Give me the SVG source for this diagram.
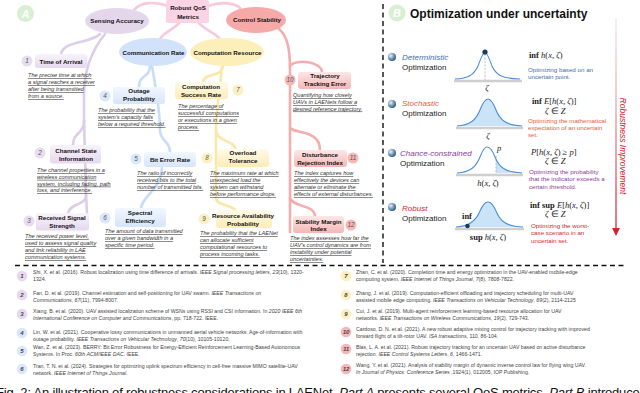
<svg xmlns="http://www.w3.org/2000/svg" width="640" height="393" viewBox="0 0 640 393">
<defs>
<style>
text{font-family:"Liberation Sans",Arial,sans-serif;}
.ti{font-weight:bold;font-size:6.2px;fill:#111;text-anchor:middle;}
.el{font-weight:bold;font-size:6.2px;fill:#111;text-anchor:middle;}
.de{font-style:italic;font-size:5.6px;fill:#333;text-decoration:underline;}
.nu{font-style:italic;font-size:6.3px;fill:#555;text-anchor:middle;}
.rf{font-size:5.2px;fill:#444;}
.i{font-style:italic;}
.rn{font-style:italic;font-weight:bold;font-size:6px;fill:#444;text-anchor:middle;}
.cl{fill:none;stroke-width:2.6;stroke-linecap:round;}
.lav{stroke:#ddcde8;} .blu{stroke:#c9dcf8;} .yel{stroke:#fbe7a6;} .red{stroke:#f6acac;} .pnk{stroke:#f8c8dc;}
.bo{font-size:8px;fill:#222;}
.bi{font-size:8px;font-style:italic;}
.fm{font-family:"Liberation Serif","Times New Roman",serif;font-size:8.5px;fill:#222;}
.bd{font-size:6.2px;}
.crv{fill:none;stroke:#4a8fdc;stroke-width:1.1;}
.fil{fill:#cbe3f6;stroke:none;}
.base{stroke:#cfcfcf;stroke-width:2.4;}
.dsh{stroke:#b0b0b0;stroke-width:0.8;stroke-dasharray:2 1.5;}
.sep{stroke:#111;stroke-width:1.4;stroke-dasharray:5 3.5;fill:none;}
</style>
<linearGradient id="gL" x1="0" y1="0" x2="0" y2="1"><stop offset="0" stop-color="#f8f3fb"/><stop offset="1" stop-color="#e6d8ef"/></linearGradient>
<linearGradient id="gB" x1="0" y1="0" x2="0" y2="1"><stop offset="0" stop-color="#f2f7fe"/><stop offset="1" stop-color="#d6e5fb"/></linearGradient>
<linearGradient id="gY" x1="0" y1="0" x2="0" y2="1"><stop offset="0" stop-color="#fffaea"/><stop offset="1" stop-color="#fcecb5"/></linearGradient>
<linearGradient id="gR" x1="0" y1="0" x2="0" y2="1"><stop offset="0" stop-color="#fde6e6"/><stop offset="1" stop-color="#f6b6b6"/></linearGradient>
<linearGradient id="gArr" gradientUnits="userSpaceOnUse" x1="616" y1="18" x2="616" y2="232"><stop offset="0" stop-color="#f1e6e8"/><stop offset="0.35" stop-color="#eab0b4"/><stop offset="1" stop-color="#d3222c"/></linearGradient>
<radialGradient id="sph" cx="0.35" cy="0.35" r="0.7"><stop offset="0" stop-color="#eef3f8"/><stop offset="0.5" stop-color="#7d9dbd"/><stop offset="1" stop-color="#2b5884"/></radialGradient>
<clipPath id="cpP"><rect x="496" y="140" width="30" height="40"/></clipPath>
<marker id="ah" viewBox="0 0 10 10" refX="5" refY="5" markerWidth="6" markerHeight="6" orient="auto"><path d="M0,0 L10,5 L0,10 z" fill="#d3222c"/></marker>
</defs>
<rect width="640" height="393" fill="#fff"/>

<!-- separators -->
<line class="sep" x1="383" y1="4" x2="383" y2="263"/>
<line class="sep" x1="15" y1="265.5" x2="626" y2="265.5"/>

<!-- Panel labels -->
<g id="labelA"><circle cx="25.5" cy="13.5" r="8.5" fill="#d8efd3"/><text x="25.5" y="17.5" text-anchor="middle" font-size="11" font-weight="bold" font-style="italic" fill="#fff">A</text></g>
<g id="labelB"><circle cx="397" cy="13" r="8.5" fill="#d8efd3"/><text x="397" y="17" text-anchor="middle" font-size="11" font-weight="bold" font-style="italic" fill="#fff">B</text></g>

<!-- connectors -->
<g id="connectors">
<path class="cl pnk" d="M168,6 C155,1 140,2 134,10"/>
<path class="cl pnk" d="M208,6 C222,1 236,3 241,9"/>
<path class="cl pnk" d="M180,22 C174,30 163,32 160,39"/>
<path class="cl pnk" d="M198,22 C204,30 215,32 220,39"/>
<path class="cl lav" d="M100,34 C90,44 64,40 61,54"/>
<path class="cl lav" d="M105,34 C92,50 84,70 84,95 L84,122 C84,134 73,132 73,145"/>
<path class="cl lav" d="M84,120 L86,195 C87,205 70,203 68,213"/>
<path class="cl lav" d="M86,195 L87,213"/>
<path class="cl blu" d="M150,66 C150,78 139,74 139,87"/>
<path class="cl blu" d="M152,66 C156,90 160,110 160,130 C160,142 170,140 170,152"/>
<path class="cl blu" d="M162,166 C162,190 141,196 141,209"/>
<path class="cl yel" d="M223,66 C222,78 203,72 203,83"/>
<path class="cl yel" d="M222,66 C220,90 216,110 216,130 C216,142 235,140 236,150"/>
<path class="cl yel" d="M216,130 L216,198 C216,206 232,204 236,211"/>
<path class="cl red" d="M278,28 C288,36 290,50 290,70 L290,232"/>
<path class="cl red" d="M290,66 C296,58 322,62 322,72"/>
<path class="cl red" d="M290,128 C296,134 320,130 320,150"/>
<path class="cl red" d="M290,198 C294,208 314,204 315,216"/>
</g>

<!-- root and categories -->
<g id="root"><rect x="166" y="0" width="43" height="23" rx="2" fill="#fad4e5"/><text class="el" x="188" y="9.5" font-size="6.8">Robust QoS</text><text class="el" x="188" y="18.5" font-size="6.8">Metrics</text></g>
<g id="sensing"><ellipse cx="117" cy="21" rx="32" ry="13" fill="#e4d7ec"/><text class="el" x="117" y="23">Sensing Accuracy</text></g>
<g id="control"><ellipse cx="256" cy="20" rx="30" ry="13" fill="#f5a9a8"/><text class="el" x="257" y="22">Control Stability</text></g>
<g id="commrate"><ellipse cx="153" cy="52" rx="34" ry="14" fill="#d2e2fb"/><text class="el" x="153.5" y="54.5">Communication Rate</text></g>
<g id="comprsc"><ellipse cx="227" cy="52" rx="37" ry="14" fill="#fcefb9"/><text class="el" x="227.5" y="54.5">Computation Resource</text></g>

<!-- lavender nodes -->
<g id="n1"><circle cx="27" cy="61" r="5.5" fill="#e8dcef"/><text class="nu" x="27" y="63.3">1</text>
<rect x="35" y="54" width="52" height="14" rx="3" fill="url(#gL)"/><text class="ti" x="61" y="63.5">Time of Arrival</text>
<text class="de" x="28" y="77">The precise time at which</text><text class="de" x="28" y="84">a signal reaches a receiver</text><text class="de" x="28" y="91">after being transmitted</text><text class="de" x="28" y="98">from a source.</text></g>
<g id="n2"><circle cx="40" cy="153" r="5.5" fill="#e8dcef"/><text class="nu" x="40" y="155.3">2</text>
<rect x="50" y="145" width="51" height="18.5" rx="3" fill="url(#gL)"/><text class="ti" x="76" y="153">Channel State</text><text class="ti" x="76" y="161">Information</text>
<text class="de" x="37" y="172">The channel properties in a</text><text class="de" x="37" y="178.8">wireless communication</text><text class="de" x="37" y="185.6">system, including fading, path</text><text class="de" x="37" y="192.4">loss, and interference.</text></g>
<g id="n3"><circle cx="29" cy="221" r="5.5" fill="#e8dcef"/><text class="nu" x="29" y="223.3">3</text>
<rect x="36" y="213" width="53" height="17.5" rx="3" fill="url(#gL)"/><text class="ti" x="62" y="220">Received Signal</text><text class="ti" x="62" y="228">Strength</text>
<text class="de" x="25" y="238">The received power level,</text><text class="de" x="25" y="245">used to assess signal quality</text><text class="de" x="25" y="252">and link reliability in LAE</text><text class="de" x="25" y="259">communication systems.</text></g>

<!-- blue nodes -->
<g id="n4"><circle cx="105" cy="96" r="5.5" fill="#dbe7fb"/><text class="nu" x="105" y="98.3">4</text>
<rect x="113" y="87" width="52" height="17" rx="3" fill="url(#gB)"/><text class="ti" x="139" y="93">Outage</text><text class="ti" x="139" y="101">Probability</text>
<text class="de" x="98" y="112">The probability that the</text><text class="de" x="98" y="119">system's capacity falls</text><text class="de" x="98" y="126">below a required threshold.</text></g>
<g id="n5"><circle cx="136" cy="159" r="5.5" fill="#dbe7fb"/><text class="nu" x="136" y="161.3">5</text>
<rect x="144" y="152" width="52" height="15" rx="3" fill="url(#gB)"/><text class="ti" x="170" y="161.5">Bit Error Rate</text>
<text class="de" x="137" y="175">The ratio of incorrectly</text><text class="de" x="137" y="182">received bits to the total</text><text class="de" x="137" y="189">number of transmitted bits.</text></g>
<g id="n6"><circle cx="105" cy="218" r="5.5" fill="#dbe7fb"/><text class="nu" x="105" y="220.3">6</text>
<rect x="115" y="208" width="51" height="19" rx="3" fill="url(#gB)"/><text class="ti" x="140" y="215">Spectral</text><text class="ti" x="140" y="223">Efficiency</text>
<text class="de" x="105" y="233">The amount of data transmitted</text><text class="de" x="105" y="240">over a given bandwidth in a</text><text class="de" x="105" y="247">specific time period.</text></g>

<!-- yellow nodes -->
<g id="n7"><circle cx="238" cy="90" r="5.5" fill="#fcf0c3"/><text class="nu" x="238" y="92.3">7</text>
<rect x="175" y="82" width="53" height="17" rx="3" fill="url(#gY)"/><text class="ti" x="201" y="89">Computation</text><text class="ti" x="201" y="96.5">Success Rate</text>
<text class="de" x="178" y="108">The percentage of</text><text class="de" x="178" y="115">successful computations</text><text class="de" x="178" y="122">or executions in a given</text><text class="de" x="178" y="129">process.</text></g>
<g id="n8"><circle cx="207" cy="158" r="5.5" fill="#fcf0c3"/><text class="nu" x="207" y="160.3">8</text>
<rect x="217" y="149" width="52" height="18" rx="3" fill="url(#gY)"/><text class="ti" x="243" y="155">Overload</text><text class="ti" x="243" y="163">Tolerance</text>
<text class="de" x="210" y="175">The maximum rate at which</text><text class="de" x="210" y="182">unexpected load the</text><text class="de" x="210" y="189">system can withstand</text><text class="de" x="210" y="196">before performance drops.</text></g>
<g id="n9"><circle cx="204" cy="219" r="5.5" fill="#fcf0c3"/><text class="nu" x="204" y="221.3">9</text>
<rect x="216" y="210" width="56" height="18" rx="3" fill="url(#gY)"/><text class="ti" x="243" y="218">Resource Availability</text><text class="ti" x="243" y="225.5">Probability</text>
<text class="de" x="200" y="235">The probability that the LAENet</text><text class="de" x="200" y="242">can allocate sufficient</text><text class="de" x="200" y="249">computational resources to</text><text class="de" x="200" y="256">process incoming tasks.</text></g>

<!-- red nodes -->
<g id="n10"><circle cx="290" cy="80" r="5.5" fill="#f7b7b6"/><text class="nu" x="290" y="82.3">10</text>
<rect x="298" y="72" width="53" height="17" rx="3" fill="url(#gR)"/><text class="ti" x="325" y="78">Trajectory</text><text class="ti" x="325" y="86">Tracking Error</text>
<text class="de" x="293" y="97">Quantifying how closely</text><text class="de" x="293" y="104">UAVs in LAENets follow a</text><text class="de" x="293" y="110.5">desired reference trajectory.</text></g>
<g id="n11"><circle cx="353" cy="158" r="5.5" fill="#f7b7b6"/><text class="nu" x="353" y="160.3">11</text>
<rect x="294" y="150" width="53" height="17" rx="3" fill="url(#gR)"/><text class="ti" x="320" y="157">Disturbance</text><text class="ti" x="320" y="165">Rejection Index</text>
<text class="de" x="294" y="175">The index captures how</text><text class="de" x="294" y="182">effectively the devices can</text><text class="de" x="294" y="189">alternate or eliminate the</text><text class="de" x="294" y="196">effects of external disturbances.</text></g>
<g id="n12"><circle cx="351" cy="225" r="5.5" fill="#f7b7b6"/><text class="nu" x="351" y="227.3">12</text>
<rect x="293" y="216" width="51" height="17" rx="3" fill="url(#gR)"/><text class="ti" x="318.5" y="224">Stability Margin</text><text class="ti" x="318.5" y="231">Index</text>
<text class="de" x="290" y="240">The index assesses how far the</text><text class="de" x="290" y="247">UAV's control dynamics are from</text><text class="de" x="290" y="254">instability under potential</text><text class="de" x="290" y="261">uncertainties.</text></g>

<!-- Panel B -->
<text x="410" y="18" font-size="12" font-weight="bold" fill="#111">Optimization under uncertainty</text>

<g id="det">
<circle cx="392" cy="57" r="4" fill="url(#sph)"/>
<text class="bi" x="402" y="60" fill="#3f6fae">Deterministic</text><text class="bo" x="402" y="70">Optimization</text>
<line class="base" x1="454" y1="81" x2="522" y2="81"/>
<line class="dsh" x1="485" y1="54" x2="485" y2="80"/>
<path class="crv" d="M455,79 C468,78.5 474,75 478,66 C481,58 483,52 485,52 C487,52 489,58 492,66 C496,75 502,78.5 520,79"/>
<circle cx="485" cy="52" r="2.6" fill="#1c3a60"/>
<text class="fm" x="487" y="91" text-anchor="middle" font-style="italic">ζ</text>
<text class="fm" x="529" y="58"><tspan font-weight="bold">inf</tspan> <tspan font-style="italic">h</tspan>(<tspan font-style="italic">x</tspan>, <tspan font-style="italic">ζ</tspan>)</text>
<text class="bd" x="528" y="72" fill="#3f6fae">Optimizing based on an</text><text class="bd" x="528" y="79" fill="#3f6fae">uncertain point.</text>
</g>

<g id="sto">
<circle cx="392" cy="104" r="4" fill="url(#sph)"/>
<text class="bi" x="402" y="106" fill="#e2603c">Stochastic</text><text class="bo" x="402" y="116">Optimization</text>
<line class="base" x1="456" y1="128" x2="523" y2="128"/>
<path class="fil" d="M457,126 C470,125.5 476,120 480,110 C483,102 486,99 488,99 C490,99 493,102 496,110 C500,120 506,125.5 522,126 Z"/>
<path class="crv" d="M457,126 C470,125.5 476,120 480,110 C483,102 486,99 488,99 C490,99 493,102 496,110 C500,120 506,125.5 522,126"/>
<text class="fm" x="488" y="139" text-anchor="middle" font-style="italic">ζ</text>
<text class="fm" x="532" y="104"><tspan font-weight="bold">inf</tspan> <tspan font-style="italic">E</tspan>[<tspan font-style="italic">h</tspan>(<tspan font-style="italic">x</tspan>, <tspan font-style="italic">ζ</tspan>)]</text>
<text class="fm" x="545" y="114"><tspan font-style="italic">ζ</tspan> ∈ <tspan font-style="italic">Z</tspan></text>
<text class="bd" x="528" y="123" fill="#e2603c">Optimizing the mathematical</text><text class="bd" x="528" y="130" fill="#e2603c">expectation of an uncertain</text><text class="bd" x="528" y="137" fill="#e2603c">set.</text>
</g>

<g id="cha">
<circle cx="392" cy="153" r="4" fill="url(#sph)"/>
<text class="bi" x="400" y="156" fill="#8d3a9c">Chance-constrained</text><text class="bo" x="400" y="166">Optimization</text>
<line class="base" x1="456" y1="175" x2="523" y2="175"/>
<path class="fil" clip-path="url(#cpP)" d="M457,173 C470,172.5 476,167 480,157 C483,149 485,147 487,147 C489,147 492,149 495,157 C499,167 505,172.5 522,173 Z"/>
<line class="dsh" x1="496" y1="156" x2="496" y2="174"/>
<path class="crv" d="M457,173 C470,172.5 476,167 480,157 C483,149 485,147 487,147 C489,147 492,149 495,157 C499,167 505,172.5 522,173"/>
<text class="fm" x="497" y="151" font-style="italic" font-size="7.5">p</text>
<text class="fm" x="488" y="186" text-anchor="middle" font-size="7.5"><tspan font-style="italic">h</tspan>(<tspan font-style="italic">x</tspan>, <tspan font-style="italic">ζ</tspan>)</text>
<text class="fm" x="531" y="155"><tspan font-style="italic">P</tspan>[<tspan font-style="italic">h</tspan>(<tspan font-style="italic">x</tspan>, <tspan font-style="italic">ζ</tspan>) ≥ <tspan font-style="italic">p</tspan>]</text>
<text class="fm" x="545" y="164"><tspan font-style="italic">ζ</tspan> ∈ <tspan font-style="italic">Z</tspan></text>
<text class="bd" x="529" y="174" fill="#8d3a9c">Optimizing the probability</text><text class="bd" x="529" y="181" fill="#8d3a9c">that the indicator exceeds a</text><text class="bd" x="529" y="189" fill="#8d3a9c">certain threshold.</text>
</g>

<g id="rob">
<circle cx="392" cy="207" r="4" fill="url(#sph)"/>
<text class="bi" x="402" y="211" fill="#d8262f">Robust</text><text class="bo" x="402" y="221">Optimization</text>
<line class="base" x1="455" y1="229" x2="524" y2="229"/>
<path class="fil" d="M456,227 C469,226.5 476,221 480,211 C483,204 486,202 488,202 C490,202 493,204 496,211 C500,221 506,226.5 523,227 Z"/>
<path class="crv" d="M456,227 C469,226.5 476,221 480,211 C483,204 486,202 488,202 C490,202 493,204 496,211 C500,221 506,226.5 523,227"/>
<circle cx="467.5" cy="226" r="2.3" fill="#1c3a60"/>
<text class="fm" x="467" y="219" text-anchor="middle" font-size="7.5" font-weight="bold">inf</text>
<text class="fm" x="488" y="240" text-anchor="middle" font-size="7.5"><tspan font-weight="bold">sup</tspan> <tspan font-style="italic">h</tspan>(<tspan font-style="italic">x</tspan>, <tspan font-style="italic">ζ</tspan>)</text>
<text class="fm" x="530" y="208"><tspan font-weight="bold">inf sup</tspan> <tspan font-style="italic">E</tspan>[<tspan font-style="italic">h</tspan>(<tspan font-style="italic">x</tspan>, <tspan font-style="italic">ζ</tspan>)]</text>
<text class="fm" x="545" y="217"><tspan font-style="italic">ζ</tspan> ∈ <tspan font-style="italic">Z</tspan></text>
<text class="bd" x="531" y="228" fill="#d8262f">Optimizing the worst-</text><text class="bd" x="531" y="235" fill="#d8262f">case scenario in an</text><text class="bd" x="531" y="243" fill="#d8262f">uncertain set.</text>
</g>

<g id="robustness">
<line x1="616" y1="18" x2="616" y2="232" stroke="url(#gArr)" stroke-width="1.3" marker-end="url(#ah)"/>
<text transform="translate(620,146) rotate(90)" text-anchor="middle" font-size="8.5" font-style="italic" fill="#d3222c">Robustness Improvement</text>
</g>

<!-- references -->
<g id="refs">
<circle cx="22" cy="276" r="5.3" fill="#e6d9ee"/><text class="rn" x="22" y="278">1</text>
<text class="rf" x="33" y="274">Shi, X. et al. (2016). Robust localization using time difference of arrivals. <tspan class="i">IEEE Signal processing letters</tspan>, <tspan class="i">23</tspan>(10), 1320-</text>
<text class="rf" x="33" y="280.5">1324.</text>
<circle cx="22" cy="295" r="5.3" fill="#e6d9ee"/><text class="rn" x="22" y="297">2</text>
<text class="rf" x="33" y="295">Fan, D. et al. (2019). Channel estimation and self-positioning for UAV swarm. <tspan class="i">IEEE Transactions on</tspan></text>
<text class="rf" x="33" y="301.5"><tspan class="i">Communications</tspan>, <tspan class="i">67</tspan>(11), 7994-8007.</text>
<circle cx="22" cy="314" r="5.3" fill="#e6d9ee"/><text class="rn" x="22" y="316">3</text>
<text class="rf" x="33" y="313">Xiang, B. et al. (2020). UAV assisted localization scheme of WSNs using RSSI and CSI information. In <tspan class="i">2020 IEEE 6th</tspan></text>
<text class="rf" x="33" y="319.5"><tspan class="i">International Conference on Computer and Communications</tspan>, pp. 718-722. IEEE.</text>
<circle cx="22" cy="333" r="5.3" fill="#dbe7fb"/><text class="rn" x="22" y="335">4</text>
<text class="rf" x="33" y="334">Lin, W. et al. (2021). Cooperative lossy communications in unmanned aerial vehicle networks: Age-of-information with</text>
<text class="rf" x="33" y="340.5">outage probability. <tspan class="i">IEEE Transactions on Vehicular Technology</tspan>, <tspan class="i">70</tspan>(10), 10105-10120.</text>
<circle cx="22" cy="351" r="5.3" fill="#dbe7fb"/><text class="rn" x="22" y="353">5</text>
<text class="rf" x="33" y="349">Wan, Z. et al. (2023). BERRY: Bit Error Robustness for Energy-Efficient Reinforcement Learning-Based Autonomous</text>
<text class="rf" x="33" y="355.5">Systems. In Proc. <tspan class="i">60th ACM/IEEE DAC</tspan>. IEEE.</text>
<circle cx="22" cy="369" r="5.3" fill="#dbe7fb"/><text class="rn" x="22" y="371">6</text>
<text class="rf" x="33" y="368">Tran, T. N. et al. (2024). Strategies for optimizing uplink spectrum efficiency in cell-free massive MIMO satellite-UAV</text>
<text class="rf" x="33" y="374.5">network. <tspan class="i">IEEE Internet of Things Journal</tspan>.</text>

<circle cx="346" cy="276" r="5.3" fill="#fcf0c3"/><text class="rn" x="346" y="278">7</text>
<text class="rf" x="356" y="274">Zhan, C. et al. (2020). Completion time and energy optimization in the UAV-enabled mobile-edge</text>
<text class="rf" x="356" y="280.5">computing system. <tspan class="i">IEEE Internet of Things Journal</tspan>, <tspan class="i">7</tspan>(8), 7808-7822.</text>
<circle cx="346" cy="295" r="5.3" fill="#fcf0c3"/><text class="rn" x="346" y="297">8</text>
<text class="rf" x="356" y="295">Zhang, J. et al. (2019). Computation-efficient offloading and trajectory scheduling for multi-UAV</text>
<text class="rf" x="356" y="301.5">assisted mobile edge computing. <tspan class="i">IEEE Transactions on Vehicular Technology</tspan>, <tspan class="i">69</tspan>(2), 2114-2125</text>
<circle cx="346" cy="314" r="5.3" fill="#fcf0c3"/><text class="rn" x="346" y="316">9</text>
<text class="rf" x="356" y="313">Cui, J. et al. (2019). Multi-agent reinforcement learning-based resource allocation for UAV</text>
<text class="rf" x="356" y="319.5">networks. <tspan class="i">IEEE Transactions on Wireless Communications</tspan>, <tspan class="i">19</tspan>(2), 729-743.</text>
<circle cx="346" cy="332" r="5.3" fill="#f7b7b6"/><text class="rn" x="346" y="334">10</text>
<text class="rf" x="356" y="331">Cardoso, D. N. et al. (2021). A new robust adaptive mixing control for trajectory tracking with improved</text>
<text class="rf" x="356" y="337.5">forward flight of a tilt-rotor UAV. <tspan class="i">ISA transactions</tspan>, 110, 86-104.</text>
<circle cx="346" cy="349" r="5.3" fill="#f7b7b6"/><text class="rn" x="346" y="351">11</text>
<text class="rf" x="356" y="349">Blas, L. A. et al. (2021). Robust trajectory tracking for an uncertain UAV based on active disturbance</text>
<text class="rf" x="356" y="355.5">rejection. <tspan class="i">IEEE Control Systems Letters</tspan>, <tspan class="i">6</tspan>, 1466-1471.</text>
<circle cx="346" cy="369" r="5.3" fill="#f7b7b6"/><text class="rn" x="346" y="371">12</text>
<text class="rf" x="356" y="367">Wang, Y. et al. (2021). Analysis of stability margin of dynamic inverse control law for flying wing UAV.</text>
<text class="rf" x="356" y="373.5"><tspan class="i">In Journal of Physics: Conference Series</tspan> ,1924(1), 012005, IOP Publishing.</text>
</g>

<text x="-4" y="397" font-family="Liberation Serif,'Times New Roman',serif" font-size="13" fill="#111" textLength="650" lengthAdjust="spacing">Fig. 2: An illustration of robustness considerations in LAENet. <tspan font-style="italic">Part A</tspan> presents several QoS metrics. <tspan font-style="italic">Part B</tspan> introduces</text>
</svg>
